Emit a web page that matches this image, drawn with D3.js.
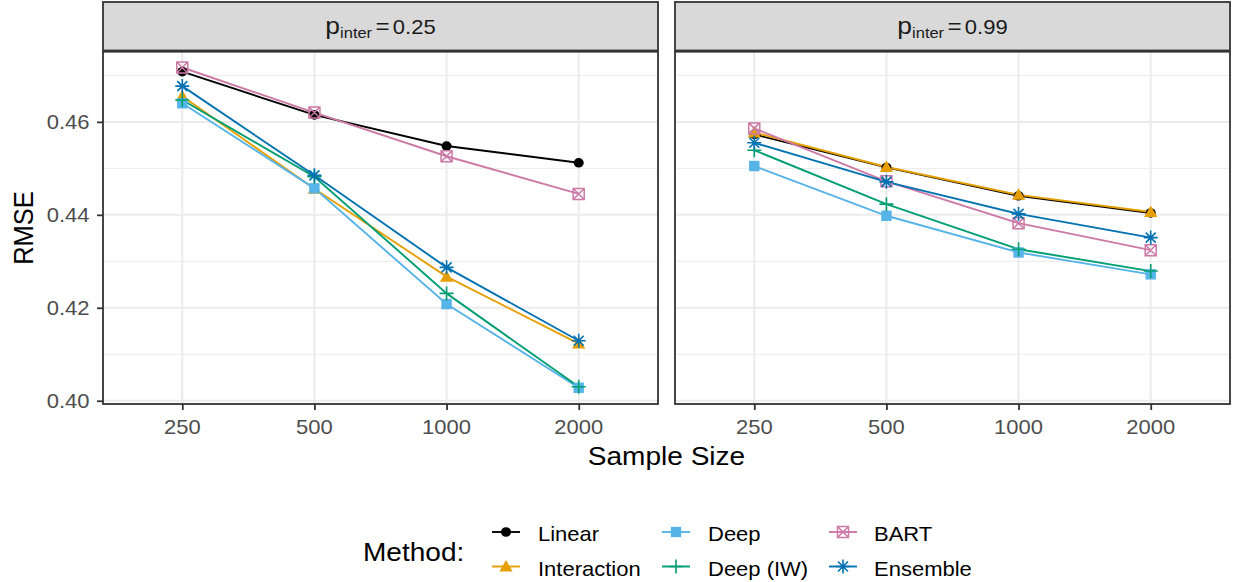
<!DOCTYPE html>
<html><head><meta charset="utf-8">
<script src="https://cdn.jsdelivr.net/npm/d3@7"></script>
<style>body{margin:0;background:#fff}svg{display:block}text{font-family:"Liberation Sans",Arial,sans-serif}</style>
</head><body>
<svg id="c" width="1235" height="582"></svg>
<script>
const sampleSizes = ["250","500","1000","2000"];
const methods = ["Linear","Interaction","Deep","Deep (IW)","BART","Ensemble"];
const facetLabels = ["0.25","0.99"];
const yTicks = [0.40,0.42,0.44,0.46];
const yMinor = [0.41,0.43,0.45,0.47];
// p_inter = 0.25
const linear025 = [0.4708,0.4615,0.4548,0.4512];
const interaction025 = [0.4655,0.4456,0.4267,0.4123];
const deep025 = [0.4640,0.4457,0.4208,0.4028];
const deepIW025 = [0.4647,0.4482,0.4231,0.4030];
const bart025 = [0.4717,0.4620,0.4526,0.4445];
const ensemble025 = [0.4677,0.4485,0.4287,0.4129];
// p_inter = 0.99
const linear099 = [0.4573,0.4502,0.4441,0.4404];
const interaction099 = [0.4577,0.4503,0.4443,0.4406];
const deep099 = [0.4505,0.4398,0.4319,0.4272];
const deepIW099 = [0.4539,0.4423,0.4326,0.4279];
const bart099 = [0.4586,0.4472,0.4382,0.4324];
const ensemble099 = [0.4555,0.4471,0.4402,0.4351];

const colors = ["#000000","#E69F00","#56B4E9","#009E73","#CC79A7","#0072B2"];
const shapes = ["circle","triangle","square","plus","boxx","asterisk"];
const facetData = [
  [linear025,interaction025,deep025,deepIW025,bart025,ensemble025],
  [linear099,interaction099,deep099,deepIW099,bart099,ensemble099]
];

const svg = d3.select("#c");
const SX = 1.1;
function txt(g,x,y,str,size,anchor,fill,rot){
  const t = g.append("text")
    .attr("transform",`translate(${x},${y})${rot?` rotate(${rot})`:""} scale(${rot? "1,"+SX : SX+",1"})`)
    .attr("font-size",size).attr("text-anchor",anchor).attr("fill",fill).text(str);
  return t;
}
const panels = [{x0:103,x1:658},{x0:675,x1:1230}];
const pTop = 51.7, pBot = 404;
const y = d3.scaleLinear().domain([0.3993,0.4751]).range([pBot,pTop]);

function marker(g,shape,color,cx,cy){
  const s = g.append("g").attr("transform",`translate(${cx},${cy})`);
  if(shape==="circle") s.append("ellipse").attr("rx",4.8*1.05).attr("ry",4.8).attr("fill",color);
  else if(shape==="triangle") s.append("path").attr("d","M0,-6.5L6.6,5L-6.6,5Z").attr("fill",color);
  else if(shape==="square") s.append("rect").attr("x",-5.2).attr("y",-5.2).attr("width",10.4).attr("height",10.4).attr("fill",color);
  else if(shape==="plus") s.append("path").attr("d","M-7,0H7M0,-7V7").attr("stroke",color).attr("stroke-width",1.6).attr("fill","none");
  else if(shape==="boxx") s.append("path").attr("d","M-5.5,-5.5H5.5V5.5H-5.5ZM-5.5,-5.5L5.5,5.5M5.5,-5.5L-5.5,5.5").attr("stroke",color).attr("stroke-width",1.5).attr("fill","none");
  else if(shape==="asterisk") s.append("path").attr("d","M-7,0H7M0,-7V7M-5,-5L5,5M5,-5L-5,5").attr("stroke",color).attr("stroke-width",1.6).attr("fill","none");
}

panels.forEach((p,pi)=>{
  const x = d3.scalePoint().domain(sampleSizes).range([p.x0,p.x1]).padding(0.6);
  const g = svg.append("g");
  g.append("rect").attr("x",p.x0).attr("y",pTop).attr("width",p.x1-p.x0).attr("height",pBot-pTop).attr("fill","#fff");
  yMinor.forEach(v=>g.append("line").attr("x1",p.x0).attr("x2",p.x1).attr("y1",y(v)).attr("y2",y(v)).attr("stroke","#EBEBEB").attr("stroke-width",1));
  yTicks.forEach(v=>g.append("line").attr("x1",p.x0).attr("x2",p.x1).attr("y1",y(v)).attr("y2",y(v)).attr("stroke","#EBEBEB").attr("stroke-width",2));
  sampleSizes.forEach(s=>g.append("line").attr("x1",x(s)).attr("x2",x(s)).attr("y1",pTop).attr("y2",pBot).attr("stroke","#EBEBEB").attr("stroke-width",2));
  const line = d3.line().x((d,i)=>x(sampleSizes[i])).y(d=>y(d));
  facetData[pi].forEach((vals,mi)=>{
    g.append("path").attr("d",line(vals)).attr("fill","none").attr("stroke",colors[mi]).attr("stroke-width",1.9);
  });
  facetData[pi].forEach((vals,mi)=>{
    vals.forEach((v,i)=>marker(g,shapes[mi],colors[mi],x(sampleSizes[i]),y(v)));
  });
  g.append("rect").attr("x",p.x0).attr("y",pTop).attr("width",p.x1-p.x0).attr("height",pBot-pTop).attr("fill","none").attr("stroke","#333333").attr("stroke-width",1.8);
  // strip
  g.append("rect").attr("x",p.x0).attr("y",2).attr("width",p.x1-p.x0).attr("height",48.5).attr("fill","#D9D9D9").attr("stroke","#333333").attr("stroke-width",1.8);
  const st = g.append("text").attr("transform",`translate(${(p.x0+p.x1)/2},34.3) scale(${SX},1)`).attr("text-anchor","middle").attr("fill","#1A1A1A");
  st.append("tspan").attr("font-size",24).text("p");
  st.append("tspan").attr("font-size",15).attr("dy",4).text("inter");
  st.append("tspan").attr("font-size",22).attr("dy",-4).attr("dx",3).text("=");
  st.append("tspan").attr("font-size",20).attr("dx",3).text(facetLabels[pi]);
  // x axis
  const xa = g.append("g").attr("transform",`translate(0,${pBot})`).call(d3.axisBottom(x).tickSize(6).tickSizeOuter(0));
  xa.select(".domain").remove();
  xa.selectAll(".tick line").attr("stroke","#333333").attr("stroke-width",1.8);
  xa.selectAll(".tick text").remove();
  sampleSizes.forEach(s=>txt(g,x(s),434,s,20,"middle","#4D4D4D"));
});
// y axis (left panel)
const ya = svg.append("g").attr("transform",`translate(${panels[0].x0},0)`).call(d3.axisLeft(y).tickValues(yTicks).tickSize(6).tickSizeOuter(0));
ya.select(".domain").remove();
ya.selectAll(".tick line").attr("stroke","#333333").attr("stroke-width",1.8);
ya.selectAll(".tick text").remove();
yTicks.forEach(v=>txt(svg,89.5,y(v)+7.3,d3.format(".2f")(v),20,"end","#4D4D4D"));
// titles
txt(svg,666.5,465,"Sample Size",25.5,"middle","#000");
txt(svg,33,228,"RMSE",25.5,"middle","#000",-90);
// legend
txt(svg,363,560.5,"Method:",25.5,"start","#000");
const keyX = [506,676,843], textX = [538,708,874], rowY = [532,566.5];
methods.forEach((m,i)=>{
  const col = Math.floor(i/2), row = i%2;
  const cx = keyX[col], cy = rowY[row];
  svg.append("line").attr("x1",cx-14).attr("x2",cx+14).attr("y1",cy).attr("y2",cy).attr("stroke",colors[i]).attr("stroke-width",1.9);
  marker(svg,shapes[i],colors[i],cx,cy);
  txt(svg,textX[col],cy+9,m,20,"start","#000");
});
</script>
</body></html>
